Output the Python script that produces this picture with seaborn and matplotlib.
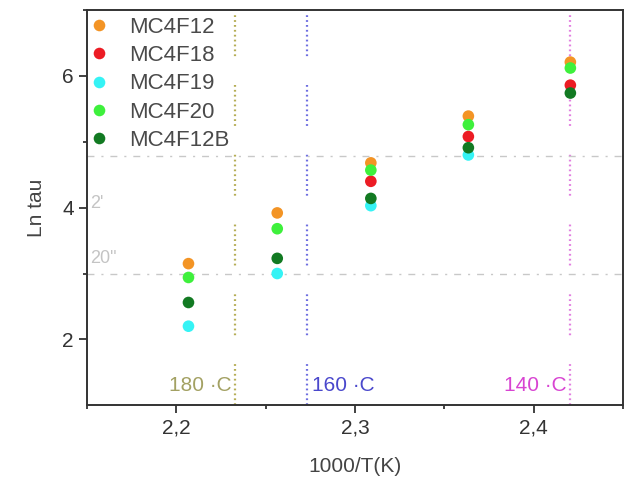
import numpy as np
import pandas as pd
import matplotlib
matplotlib.use("Agg")
import matplotlib.pyplot as plt
import seaborn as sns

# Data
x_vals = [2.2068, 2.2565, 2.3089, 2.3635, 2.4206]  # 1000/T for 180..140 C
samples = ["MC4F12", "MC4F18", "MC4F19", "MC4F20", "MC4F12B"]
mc4f12 = [3.15, 3.92, 4.68, 5.39, 6.21]
mc4f18 = [np.nan, np.nan, 4.40, 5.08, 5.86]
mc4f19 = [2.20, 3.00, 4.03, 4.80, np.nan]
mc4f20 = [2.94, 3.68, 4.57, 5.26, 6.12]
mc4f12b = [2.56, 3.23, 4.14, 4.91, 5.74]
colors = ["#f39425", "#ec1c24", "#35f3f5", "#3ef03c", "#127a22"]

# reference lines
temp_labels = ["180 ·C", "160 ·C", "140 ·C"]
temp_line_x = [2.233, 2.273, 2.4206]
temp_text_x = [2.231, 2.276, 2.4185]
temp_align = ["right", "left", "right"]
temp_colors = ["#a3a163", "#4a48cc", "#d844d2"]
temp_line_colors = ["#b5ad55", "#6e6ee0", "#e27fe0"]
time_labels = ["2'", '20"']
time_y = [4.79, 3.0]
time_label_y = [4.07, 3.23]

df = pd.DataFrame({
    "x": x_vals * 5,
    "y": mc4f12 + mc4f18 + mc4f19 + mc4f20 + mc4f12b,
    "sample": [s for s in samples for _ in x_vals],
}).dropna()

sns.set_style("ticks")
plt.rcParams["font.family"] = ["Liberation Sans", "DejaVu Sans"]

fig = plt.figure(figsize=(6.26, 4.79), dpi=100)
ax = fig.add_axes([0.139, 0.154, 0.856, 0.825])

# dotted temperature lines
dash = (0, (0.8, 1.4) * 8 + (0.8, 13))
for xl, c in zip(temp_line_x, temp_line_colors):
    ax.axvline(xl, color=c, lw=1.6, linestyle=dash, zorder=1)
for yl in time_y:
    ax.axhline(yl, color="#c8c8c8", lw=1.0, linestyle=(0, (5, 5, 1.5, 5)), zorder=1)

sns.scatterplot(data=df, x="x", y="y", hue="sample", hue_order=samples,
                palette=colors, s=70, edgecolor="none", ax=ax, zorder=3)

for lab, xt, c, ha in zip(temp_labels, temp_text_x, temp_colors, temp_align):
    ax.text(xt, 1.30, lab, color=c, fontsize=15, ha=ha, va="center")
for lab, yt in zip(time_labels, time_label_y):
    ax.text(2.152, yt, lab, color="#c4c4c4", fontsize=13, ha="left", va="center")

ax.set_xlim(2.15, 2.45)
ax.set_ylim(1, 7)
ax.set_xticks([2.2, 2.3, 2.4])
ax.set_xticklabels(["2,2", "2,3", "2,4"])
ax.set_xticks([2.15, 2.25, 2.35, 2.45], minor=True)
ax.set_yticks([2, 4, 6])
ax.set_yticks([3, 5, 7], minor=True)
ax.tick_params(axis="both", which="major", labelsize=15, length=6, width=1.3,
               colors="#333333", direction="out")
ax.tick_params(axis="both", which="minor", length=3, width=1.3, colors="#333333")
for sp in ax.spines.values():
    sp.set_color("#333333")
    sp.set_linewidth(1.4)

ax.set_xlabel("1000/T(K)", fontsize=15, color="#444444", labelpad=14)
ax.set_ylabel("Ln tau", fontsize=15, color="#444444", labelpad=12)

leg = ax.legend(loc="upper left", bbox_to_anchor=(0.0, 1.0), frameon=False,
                fontsize=16, labelspacing=0.33, handlelength=0.5,
                handletextpad=1.1, borderpad=0.2, borderaxespad=0.1)
for t in leg.get_texts():
    t.set_color("#4a4a4a")

fig.savefig("out.png", dpi=100)
